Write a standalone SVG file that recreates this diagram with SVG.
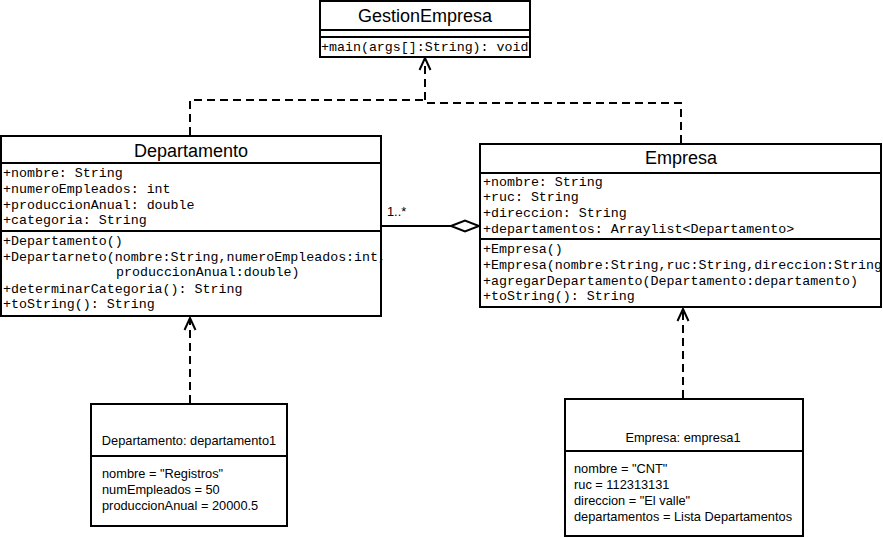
<svg xmlns="http://www.w3.org/2000/svg" width="883" height="538" viewBox="0 0 883 538">
<defs>
<style>
.box{fill:#fff;stroke:#000;stroke-width:2}
.sep{stroke:#000;stroke-width:2}
.title{font-family:"Liberation Sans",Arial,sans-serif;font-size:18px;text-anchor:middle;fill:#000}
.mono{font-family:"Liberation Mono","Courier New",monospace;font-size:13.3px;fill:#000}
.obj{font-family:"Liberation Sans",Arial,sans-serif;font-size:12.8px;fill:#000}
.dash{fill:none;stroke:#000;stroke-width:2;stroke-dasharray:8 5}
.solid{fill:none;stroke:#000;stroke-width:2}
</style>
<marker id="open" viewBox="0 0 14 14" refX="13" refY="7" markerWidth="14" markerHeight="14" markerUnits="userSpaceOnUse" orient="auto">
<path d="M1,1.5 L13,7 L1,12.5" fill="none" stroke="#000" stroke-width="2"/>
</marker>
</defs>
<rect width="883" height="538" fill="#fff"/>

<g id="connectors">
<path class="dash" d="M190,135 V100 H425"/>
<path class="dash" d="M681,143 V103 H425 V58" marker-end="url(#open)"/>
<path class="dash" d="M190,403 V318" marker-end="url(#open)"/>
<path class="dash" d="M683,398 V309" marker-end="url(#open)"/>
<path class="solid" d="M381,226 H451"/>
<path d="M451,226 L465,220.5 L479,226 L465,231.5 Z" fill="#fff" stroke="#000" stroke-width="2"/>
<text class="obj" x="387" y="216" font-size="12">1..*</text>
</g>

<g id="GestionEmpresa">
<rect class="box" x="320" y="1" width="210" height="56"/>
<line class="sep" x1="320" y1="30" x2="530" y2="30"/>
<line class="sep" x1="320" y1="37" x2="530" y2="37"/>
<text class="title" x="425" y="22">GestionEmpresa</text>
<text class="mono" x="321" y="51">+main(args[]:String): void</text>
</g>

<g id="Departamento">
<rect class="box" x="1" y="136" width="380" height="180"/>
<line class="sep" x1="1" y1="163" x2="381" y2="163"/>
<line class="sep" x1="1" y1="231" x2="381" y2="231"/>
<text class="title" x="191" y="157">Departamento</text>
<text class="mono" x="3" y="177">+nombre: String</text>
<text class="mono" x="3" y="193">+numeroEmpleados: int</text>
<text class="mono" x="3" y="209">+produccionAnual: double</text>
<text class="mono" x="3" y="224">+categoria: String</text>
<text class="mono" x="3" y="245">+Departamento()</text>
<text class="mono" x="3" y="261">+Departarneto(nombre:String,numeroEmpleados:int,</text>
<text class="mono" x="116" y="276">produccionAnual:double)</text>
<text class="mono" x="3" y="293">+determinarCategoria(): String</text>
<text class="mono" x="3" y="308">+toString(): String</text>
</g>

<g id="Empresa">
<rect class="box" x="480" y="144" width="401" height="163"/>
<line class="sep" x1="480" y1="173" x2="881" y2="173"/>
<line class="sep" x1="480" y1="239" x2="881" y2="239"/>
<text class="title" x="681" y="164">Empresa</text>
<text class="mono" x="483" y="186">+nombre: String</text>
<text class="mono" x="483" y="201">+ruc: String</text>
<text class="mono" x="483" y="217">+direccion: String</text>
<text class="mono" x="483" y="233">+departamentos: Arraylist&lt;Departamento&gt;</text>
<text class="mono" x="483" y="253">+Empresa()</text>
<text class="mono" x="483" y="269">+Empresa(nombre:String,ruc:String,direccion:String</text>
<text class="mono" x="483" y="285">+agregarDepartamento(Departamento:departamento)</text>
<text class="mono" x="483" y="300">+toString(): String</text>
</g>

<g id="departamento1">
<rect class="box" x="91" y="404" width="196" height="122"/>
<line class="sep" x1="91" y1="456" x2="287" y2="456"/>
<text class="obj" x="189" y="445" text-anchor="middle">Departamento: departamento1</text>
<text class="obj" x="102" y="478">nombre = "Registros"</text>
<text class="obj" x="102" y="494">numEmpleados = 50</text>
<text class="obj" x="102" y="510">produccionAnual = 20000.5</text>
</g>

<g id="empresa1">
<rect class="box" x="565" y="399" width="238" height="137"/>
<line class="sep" x1="565" y1="451" x2="803" y2="451"/>
<text class="obj" x="683" y="442" text-anchor="middle">Empresa: empresa1</text>
<text class="obj" x="574" y="473">nombre = "CNT"</text>
<text class="obj" x="574" y="489">ruc = 112313131</text>
<text class="obj" x="574" y="505">direccion = "El valle"</text>
<text class="obj" x="574" y="521">departamentos = Lista Departamentos</text>
</g>
</svg>
